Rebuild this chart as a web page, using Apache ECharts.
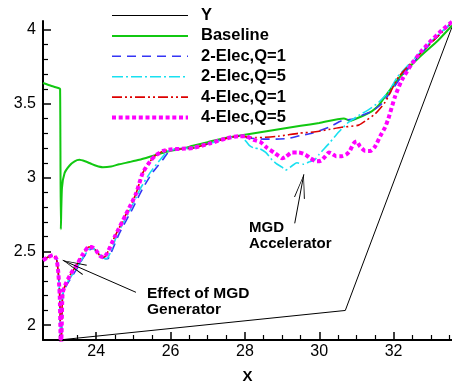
<!DOCTYPE html>
<html>
<head>
<meta charset="utf-8">
<script src="https://cdn.jsdelivr.net/npm/echarts@6/dist/echarts.min.js"></script>
<style>
html,body{margin:0;padding:0;background:#fff;}
#c{width:452px;height:389px;}
</style>
</head>
<body>
<div id="c"></div>
<script>
// ---- data ----
const seriesNames = ['Y', 'Baseline', '2-Elec,Q=1', '2-Elec,Q=5', '4-Elec,Q=1', '4-Elec,Q=5'];

const wallY = [[23.0,1.9],[30.7,2.1],[33.57,4.02]];

const baseline = [[22.57,3.64],[22.8,3.62],[23.0,3.605],[23.03,3.60],[23.05,2.65],[23.08,2.93],[23.15,3.03],
  [23.28,3.08],[23.42,3.11],[23.55,3.12],[23.7,3.11],[23.85,3.095],[24.0,3.08],[24.18,3.07],[24.4,3.075],
  [24.62,3.09],[24.9,3.105],[25.16,3.12],[25.56,3.15],[25.9,3.175],[26.3,3.195],[26.6,3.215],[27.0,3.24],
  [27.5,3.27],[28.0,3.29],[28.5,3.31],[29.0,3.33],[29.5,3.35],[30.0,3.37],[30.66,3.40],[30.84,3.385],
  [31.0,3.40],[31.19,3.42],[31.42,3.45],[31.6,3.49],[32.13,3.67],[32.67,3.81],[33.2,3.93],[33.57,4.03]];

const elec2q1 = [[22.57,2.44],[22.7,2.46],[22.84,2.47],[22.93,2.45],[22.98,2.36],[23.02,2.2],[23.04,1.95],
  [23.055,1.85],[23.07,1.95],[23.1,2.2],[23.2,2.27],[23.35,2.33],[23.5,2.39],[23.66,2.46],[23.82,2.51],
  [23.92,2.52],[24.05,2.49],[24.2,2.455],[24.31,2.45],[24.4,2.49],[24.62,2.62],[24.98,2.79],[25.25,2.925],
  [25.52,3.035],[25.79,3.12],[25.97,3.18],[26.2,3.195],[26.6,3.20],[27.04,3.23],[27.5,3.265],[27.84,3.28],
  [28.06,3.27],[28.5,3.26],[28.83,3.26],[29.18,3.265],[29.5,3.285],[29.8,3.30],[30.3,3.345],[30.61,3.385],
  [30.97,3.40],[31.14,3.42],[31.42,3.45],[31.68,3.50],[31.95,3.59],[32.2,3.68],[32.6,3.80],[33.0,3.91],[33.57,4.05]];

const elec2q5 = [[22.57,2.44],[22.7,2.46],[22.84,2.47],[22.93,2.45],[22.98,2.36],[23.02,2.2],[23.04,1.95],
  [23.055,1.85],[23.07,1.95],[23.1,2.21],[23.2,2.28],[23.35,2.34],[23.5,2.395],[23.66,2.465],[23.82,2.515],
  [23.9,2.525],[24.03,2.495],[24.17,2.46],[24.27,2.45],[24.36,2.48],[24.58,2.62],[24.93,2.79],[25.2,2.93],
  [25.47,3.04],[25.72,3.12],[25.93,3.18],[26.2,3.195],[26.6,3.20],[27.04,3.23],[27.5,3.265],[27.84,3.28],
  [27.95,3.27],[28.11,3.22],[28.24,3.20],[28.4,3.195],[28.56,3.17],[28.73,3.12],[28.87,3.09],[29.0,3.07],
  [29.09,3.05],[29.27,3.08],[29.4,3.10],[29.58,3.09],[29.72,3.105],[29.88,3.12],[29.99,3.155],[30.26,3.23],
  [30.53,3.31],[30.79,3.375],[31.06,3.42],[31.33,3.46],[31.6,3.51],[31.86,3.58],[32.1,3.68],[32.5,3.79],
  [33.0,3.92],[33.57,4.05]];

const elec4q1 = [[22.57,2.44],[22.7,2.46],[22.84,2.475],[22.93,2.45],[22.98,2.36],[23.02,2.2],[23.04,1.95],
  [23.055,1.85],[23.07,1.95],[23.1,2.22],[23.2,2.29],[23.32,2.35],[23.46,2.40],[23.64,2.48],[23.8,2.53],
  [23.88,2.53],[24.0,2.505],[24.1,2.47],[24.2,2.46],[24.3,2.49],[24.5,2.6],[24.8,2.75],[25.07,2.89],
  [25.25,3.03],[25.45,3.11],[25.6,3.15],[25.8,3.18],[26.0,3.19],[26.3,3.195],[26.6,3.20],[27.04,3.23],
  [27.5,3.265],[27.84,3.28],[28.29,3.27],[28.9,3.28],[29.45,3.30],[29.9,3.31],[30.25,3.325],[30.6,3.34],
  [31.06,3.355],[31.28,3.39],[31.5,3.43],[31.77,3.51],[32.13,3.68],[32.49,3.78],[33.0,3.91],[33.57,4.05]];

const elec4q5 = [[22.57,2.44],[22.7,2.46],[22.84,2.475],[22.93,2.45],[22.98,2.36],[23.02,2.2],[23.04,1.95],
  [23.055,1.85],[23.07,1.95],[23.1,2.22],[23.2,2.29],[23.32,2.35],[23.46,2.40],[23.64,2.48],[23.8,2.53],
  [23.88,2.53],[24.0,2.505],[24.1,2.47],[24.2,2.46],[24.3,2.49],[24.5,2.6],[24.8,2.75],[25.07,2.89],
  [25.25,3.03],[25.45,3.11],[25.6,3.15],[25.8,3.18],[26.0,3.19],[26.3,3.195],[26.6,3.20],[27.04,3.23],
  [27.5,3.265],[27.84,3.28],[28.02,3.28],[28.24,3.255],[28.42,3.24],[28.6,3.20],[28.78,3.17],[28.91,3.145],
  [29.0,3.13],[29.1,3.14],[29.27,3.17],[29.45,3.17],[29.63,3.155],[29.76,3.13],[29.94,3.11],[30.05,3.115],
  [30.17,3.145],[30.26,3.17],[30.35,3.16],[30.45,3.145],[30.61,3.145],[30.72,3.155],[30.82,3.18],[30.92,3.23],
  [31.0,3.245],[31.1,3.21],[31.24,3.18],[31.37,3.18],[31.5,3.21],[31.64,3.28],[31.77,3.34],[31.86,3.40],
  [32.04,3.55],[32.22,3.66],[32.49,3.77],[32.76,3.86],[33.02,3.93],[33.29,3.995],[33.57,4.055]];

const xMajorTicks = [24, 26, 28, 30, 32];
const xMinorTicks = [23, 23.5, 24.5, 25, 25.5, 26.5, 27, 27.5, 28.5, 29, 29.5, 30.5, 31, 31.5, 32.5, 33, 33.5];
const yMajorTicks = [2, 2.5, 3, 3.5, 4];
const yMinorTicks = [2.1, 2.2, 2.3, 2.4, 2.6, 2.7, 2.8, 2.9, 3.1, 3.2, 3.3, 3.4, 3.6, 3.7, 3.8, 3.9];

const arrowGen = [[25.07, 2.223], [23.10, 2.44]];
const arrowAcc = [[29.34, 2.69], [29.585, 3.022]];

// ---- chart ----
const FONT = '"Liberation Sans", Arial, Helvetica, sans-serif';
const chart = echarts.init(document.getElementById('c'), null, {renderer: 'canvas'});
// open V arrow head; tip at the centre of a 48x48 box so the tip sits on the line end
const chevron = 'path://M24,24 L29.5,48 L28.5,48 L24,26.5 L19.5,48 L18.5,48 Z M0,0 L0.01,0 L0,0.01 Z M48,48 L47.99,48 L48,47.99 Z';

const xr = [22.57, 33.57], yr = [1.9, 4.06];
const axisCommon = {
  type: 'value', splitLine: {show: false}
};

chart.setOption({
  animation: false,
  backgroundColor: '#fff',
  grid: {left: 43, top: 21, width: 410, height: 327, containLabel: false},
  xAxis: [
    Object.assign({}, axisCommon, {
      min: xr[0], max: xr[1], position: 'bottom',
      name: 'X', nameLocation: 'middle', nameGap: 29,
      nameTextStyle: {fontFamily: FONT, fontWeight: 'bold', fontSize: 15, color: '#000'},
      axisLine: {show: true, onZero: false, lineStyle: {color: '#000', width: 2}},
      axisTick: {show: true, inside: true, length: 8, customValues: xMajorTicks, lineStyle: {color: '#000', width: 1.5}},
      axisLabel: {show: true, customValues: xMajorTicks, margin: 4, fontFamily: FONT, fontSize: 16, color: '#000'}
    }),
    Object.assign({}, axisCommon, {
      min: xr[0], max: xr[1], position: 'bottom',
      axisLine: {show: false, onZero: false},
      axisTick: {show: true, inside: true, length: 5, customValues: xMinorTicks, lineStyle: {color: '#000', width: 1.2}},
      axisLabel: {show: false}
    })
  ],
  yAxis: [
    Object.assign({}, axisCommon, {
      min: yr[0], max: yr[1], position: 'left',
      axisLine: {show: true, onZero: false, lineStyle: {color: '#000', width: 2}},
      axisTick: {show: true, inside: true, length: 8, customValues: yMajorTicks, lineStyle: {color: '#000', width: 1.5}},
      axisLabel: {show: true, customValues: yMajorTicks, margin: 7, fontFamily: FONT, fontSize: 16, color: '#000'}
    }),
    Object.assign({}, axisCommon, {
      min: yr[0], max: yr[1], position: 'left',
      axisLine: {show: false, onZero: false},
      axisTick: {show: true, inside: true, length: 5, customValues: yMinorTicks, lineStyle: {color: '#000', width: 1.2}},
      axisLabel: {show: false}
    })
  ],
  legend: {
    orient: 'vertical', left: 110, top: 7, padding: 0,
    itemWidth: 76, itemHeight: 14, itemGap: 3.4,
    data: seriesNames,
    itemStyle: {opacity: 0},
    lineStyle: {width: 'inherit'},
    textStyle: {fontFamily: FONT, fontWeight: 'bold', fontSize: 16.5, color: '#000', padding: [0, 0, 0, 8]},
    selectedMode: false
  },
  graphic: [
    {type: 'text', left: 147, top: 286, style: {text: 'Effect of MGD\nGenerator', font: 'bold 15.5px ' + FONT, fill: '#000', lineHeight: 16}},
    {type: 'text', left: 249, top: 220, style: {text: 'MGD\nAccelerator', font: 'bold 15px ' + FONT, fill: '#000', lineHeight: 16}}
  ],
  series: [
    {name: 'Y', type: 'line', data: wallY, symbol: 'none', lineStyle: {color: '#000', width: 1}, itemStyle: {color: '#000'},
     markLine: {
       silent: true, animation: false,
       symbol: ['none', chevron], symbolSize: 48,
       label: {show: false},
       itemStyle: {color: '#000'},
       lineStyle: {color: '#000', width: 1, type: 'solid'},
       data: [
         [{coord: arrowGen[0]}, {coord: arrowGen[1]}],
         [{coord: arrowAcc[0]}, {coord: arrowAcc[1]}]
       ]
     }},
    {name: 'Baseline', type: 'line', data: baseline, symbol: 'none', smooth: 0.2, lineStyle: {color: '#11c811', width: 2}, itemStyle: {color: '#11c811'}},
    {name: '2-Elec,Q=1', type: 'line', data: elec2q1, symbol: 'none', smooth: 0.2, lineStyle: {color: '#3535f5', width: 1.6, type: [9, 6]}, itemStyle: {color: '#3535f5'}},
    {name: '2-Elec,Q=5', type: 'line', data: elec2q5, symbol: 'none', smooth: 0.2, lineStyle: {color: '#19e0f0', width: 1.6, type: [11, 3, 2, 3]}, itemStyle: {color: '#19e0f0'}},
    {name: '4-Elec,Q=1', type: 'line', data: elec4q1, symbol: 'none', smooth: 0.2, lineStyle: {color: '#dd0000', width: 1.6, type: [10, 3, 2, 3, 2, 3]}, itemStyle: {color: '#dd0000'}},
    {name: '4-Elec,Q=5', type: 'line', data: elec4q5, symbol: 'none', smooth: 0.2, lineStyle: {color: '#ff00ff', width: 4, type: [4, 2.7], cap: 'butt'}, itemStyle: {color: '#ff00ff'}}
  ]
});
</script>
</body>
</html>
